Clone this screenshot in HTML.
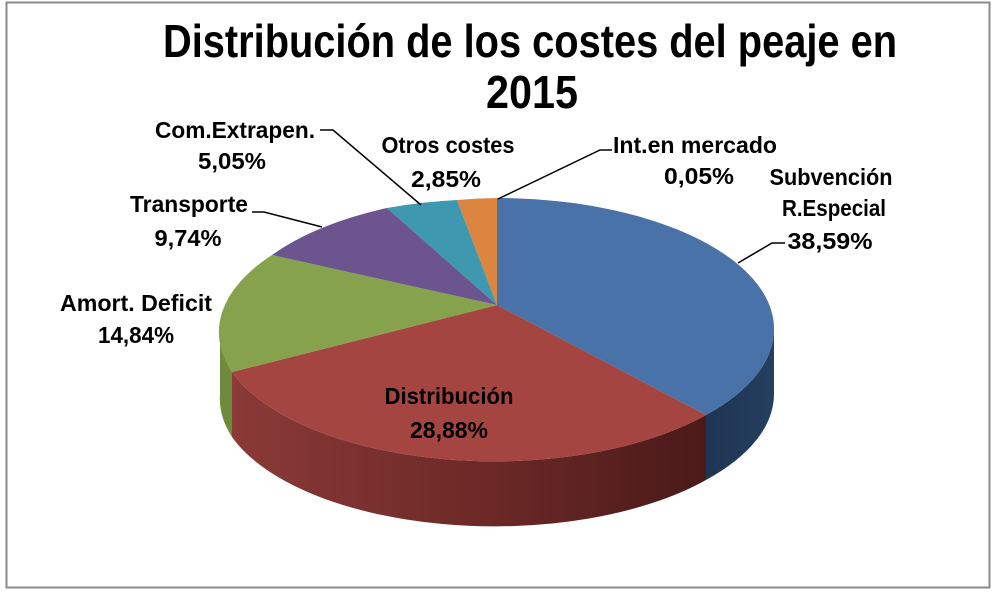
<!DOCTYPE html>
<html><head><meta charset="utf-8"><style>
html,body{margin:0;padding:0;background:#fff;}
svg{display:block;}
text{font-family:"Liberation Sans",sans-serif;font-weight:bold;fill:#000;}
</style></head><body>
<svg width="997" height="594" viewBox="0 0 997 594" xmlns="http://www.w3.org/2000/svg">
<defs>
<linearGradient id="gr" x1="0" x2="1" y1="0" y2="0">
<stop offset="0" stop-color="#8a3a37"/><stop offset="0.5" stop-color="#6e2a28"/><stop offset="1" stop-color="#4a1a19"/></linearGradient>
<linearGradient id="gb" x1="0" x2="1" y1="0" y2="0">
<stop offset="0" stop-color="#1e3452"/><stop offset="1" stop-color="#253f60"/></linearGradient>
</defs>
<rect x="6.5" y="2.5" width="983" height="585" fill="#fff" stroke="#8a8a8a" stroke-width="2"/>
<text x="530" y="57" font-size="46" text-anchor="middle" textLength="734" lengthAdjust="spacingAndGlyphs">Distribución de los costes del peaje en</text>
<text x="532" y="108" font-size="46" text-anchor="middle" textLength="92" lengthAdjust="spacingAndGlyphs">2015</text>

<path d="M220,329 A277,131 0 0 0 232,372 L232,437 A277,131 0 0 1 220,394 Z" fill="#6f8a3a"/>
<path d="M232,372 A277,131 0 0 0 706,415 L706,480 A277,131 0 0 1 232,437 Z" fill="url(#gr)"/>
<path d="M706,415 A277,131 0 0 0 774,329 L774,394 A277,131 0 0 1 706,480 Z" fill="url(#gb)"/>
<path d="M497,305 L497,198 A277,131 0 0 1 706,415 Z" fill="#4872a8"/>
<path d="M497,305 L706,415 A277,131 0 0 1 232,372 Z" fill="#a54541"/>
<path d="M497,305 L232,372 A277,131 0 0 1 272,255 Z" fill="#87a24c"/>
<path d="M497,305 L272,255 A277,131 0 0 1 387,208 Z" fill="#6c558f"/>
<path d="M497,305 L387,208 A277,131 0 0 1 457,200 Z" fill="#3d98b0"/>
<path d="M497,305 L457,200 A277,131 0 0 1 497,198 Z" fill="#dc8540"/>

<g stroke="#000" stroke-width="1.5" fill="none">
<polyline points="320,130 333,130 421,205"/>
<polyline points="612,150 600,150 498,199"/>
<polyline points="252,212 264,212 322,227"/>
<polyline points="785,243 772,243 738,263"/>
</g>

<g font-size="23">
<text x="235" y="138" text-anchor="middle" textLength="160" lengthAdjust="spacingAndGlyphs">Com.Extrapen.</text>
<text x="232" y="169" text-anchor="middle" textLength="68" lengthAdjust="spacingAndGlyphs">5,05%</text>
<text x="448" y="153" text-anchor="middle" textLength="133" lengthAdjust="spacingAndGlyphs">Otros costes</text>
<text x="446" y="187" text-anchor="middle" textLength="70" lengthAdjust="spacingAndGlyphs">2,85%</text>
<text x="695" y="153" text-anchor="middle" textLength="164" lengthAdjust="spacingAndGlyphs">Int.en mercado</text>
<text x="699" y="184" text-anchor="middle" textLength="70" lengthAdjust="spacingAndGlyphs">0,05%</text>
<text x="831" y="185" text-anchor="middle" textLength="123" lengthAdjust="spacingAndGlyphs">Subvención</text>
<text x="834" y="216" text-anchor="middle" textLength="104" lengthAdjust="spacingAndGlyphs">R.Especial</text>
<text x="830" y="249" text-anchor="middle" textLength="85" lengthAdjust="spacingAndGlyphs">38,59%</text>
<text x="189" y="212" text-anchor="middle" textLength="118" lengthAdjust="spacingAndGlyphs">Transporte</text>
<text x="188" y="246" text-anchor="middle" textLength="67" lengthAdjust="spacingAndGlyphs">9,74%</text>
<text x="136" y="311" text-anchor="middle" textLength="152" lengthAdjust="spacingAndGlyphs">Amort. Deficit</text>
<text x="136" y="343" text-anchor="middle" textLength="76" lengthAdjust="spacingAndGlyphs">14,84%</text>
<text x="449" y="404" text-anchor="middle" textLength="129" lengthAdjust="spacingAndGlyphs">Distribución</text>
<text x="449" y="438" text-anchor="middle" textLength="78" lengthAdjust="spacingAndGlyphs">28,88%</text>
</g>
</svg>
</body></html>
